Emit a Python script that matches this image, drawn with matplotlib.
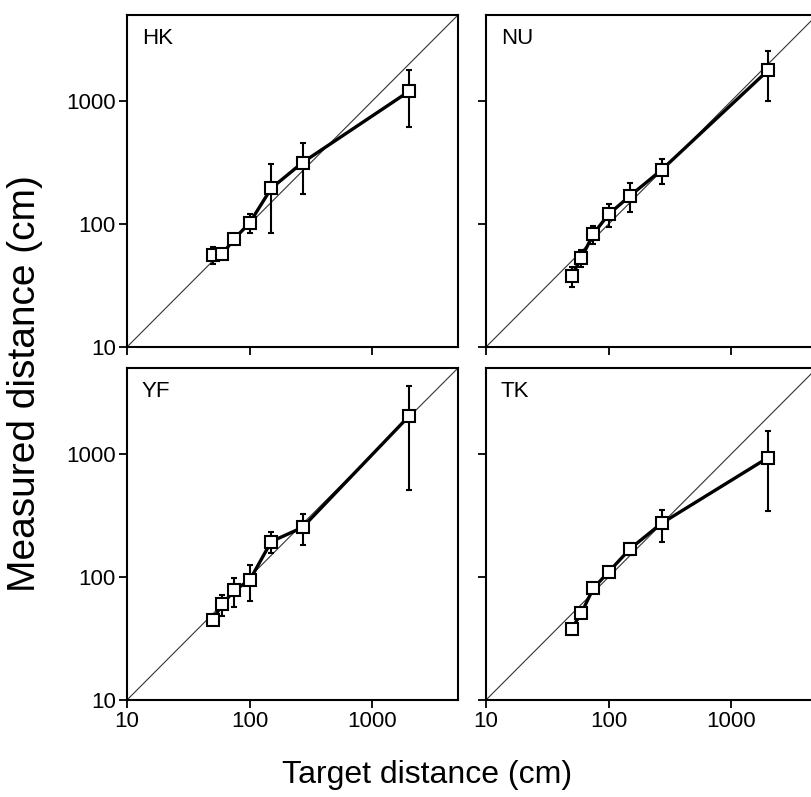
import numpy as np
import matplotlib
matplotlib.use("Agg")
import matplotlib.pyplot as plt
from matplotlib.ticker import FixedLocator, FixedFormatter, NullLocator

plt.rcParams['font.family'] = ['Liberation Sans', 'DejaVu Sans']

# --- data ---
target = [50, 60, 75, 100, 150, 270, 2000]

hk_mean = [56, 57, 76, 102, 195, 316, 1200]
hk_sd = [9, 5, 4, 18, 110, 140, 580]

nu_mean = [38, 53, 83, 120, 170, 275, 1780]
nu_sd = [7, 8, 14, 25, 45, 65, 780]

yf_mean = [45, 60, 78, 94, 194, 253, 2040]
yf_sd = [4, 12, 21, 30, 36, 70, 1530]

tk_mean = [38, 51, 81, 110, 170, 273, 935]
tk_sd = [2, 3, 6, 4, 20, 80, 590]

subjects = ["HK", "NU", "YF", "TK"]
ticks = [10, 100, 1000]
tick_labels = ["10", "100", "1000"]
LIM = (10, 5000)
# --------------------

W, H = 812, 797
fig = plt.figure(figsize=(W / 100, H / 100), dpi=100)

aw = 331 / W
ah = 332 / H
positions = [
    (127 / W, 1 - 347 / H),
    (486 / W, 1 - 347 / H),
    (127 / W, 1 - 700 / H),
    (486 / W, 1 - 700 / H),
]
means = [hk_mean, nu_mean, yf_mean, tk_mean]
sds = [hk_sd, nu_sd, yf_sd, tk_sd]

for i, (name, (x0, y0)) in enumerate(zip(subjects, positions)):
    ax = fig.add_axes([x0, y0, aw, ah])
    ax.set_xscale("log")
    ax.set_yscale("log")
    ax.set_xlim(*LIM)
    ax.set_ylim(*LIM)

    # identity line
    ax.plot(LIM, LIM, color="#333333", lw=0.8, zorder=1)

    ax.errorbar(target, means[i], yerr=sds[i], fmt="-s", color="black",
                lw=2.4, elinewidth=1.5, capsize=2.5, capthick=1.5,
                markersize=8, markerfacecolor="white", markeredgecolor="black",
                markeredgewidth=1.5, zorder=3)

    ax.text(0.045, 0.96, name, transform=ax.transAxes, fontsize=16,
            ha="left", va="top")

    for a in (ax.xaxis, ax.yaxis):
        a.set_major_locator(FixedLocator(ticks))
        a.set_major_formatter(FixedFormatter(tick_labels))
        a.set_minor_locator(NullLocator())
    ax.tick_params(direction="out", length=6, width=1.3, labelsize=16, pad=2)
    if i < 2:
        ax.tick_params(axis="x", labelbottom=False)
    if i % 2 == 1:
        ax.tick_params(axis="y", labelleft=False)
    for s in ax.spines.values():
        s.set_linewidth(1.5)

fig.text(25 / W, 1 - 384 / H, "Measured distance (cm)", rotation=90,
         fontsize=28, ha="center", va="center")
fig.text(427 / W, 1 - 775 / H, "Target distance (cm)", fontsize=23,
         ha="center", va="center")

fig.savefig("out.png", dpi=100)
